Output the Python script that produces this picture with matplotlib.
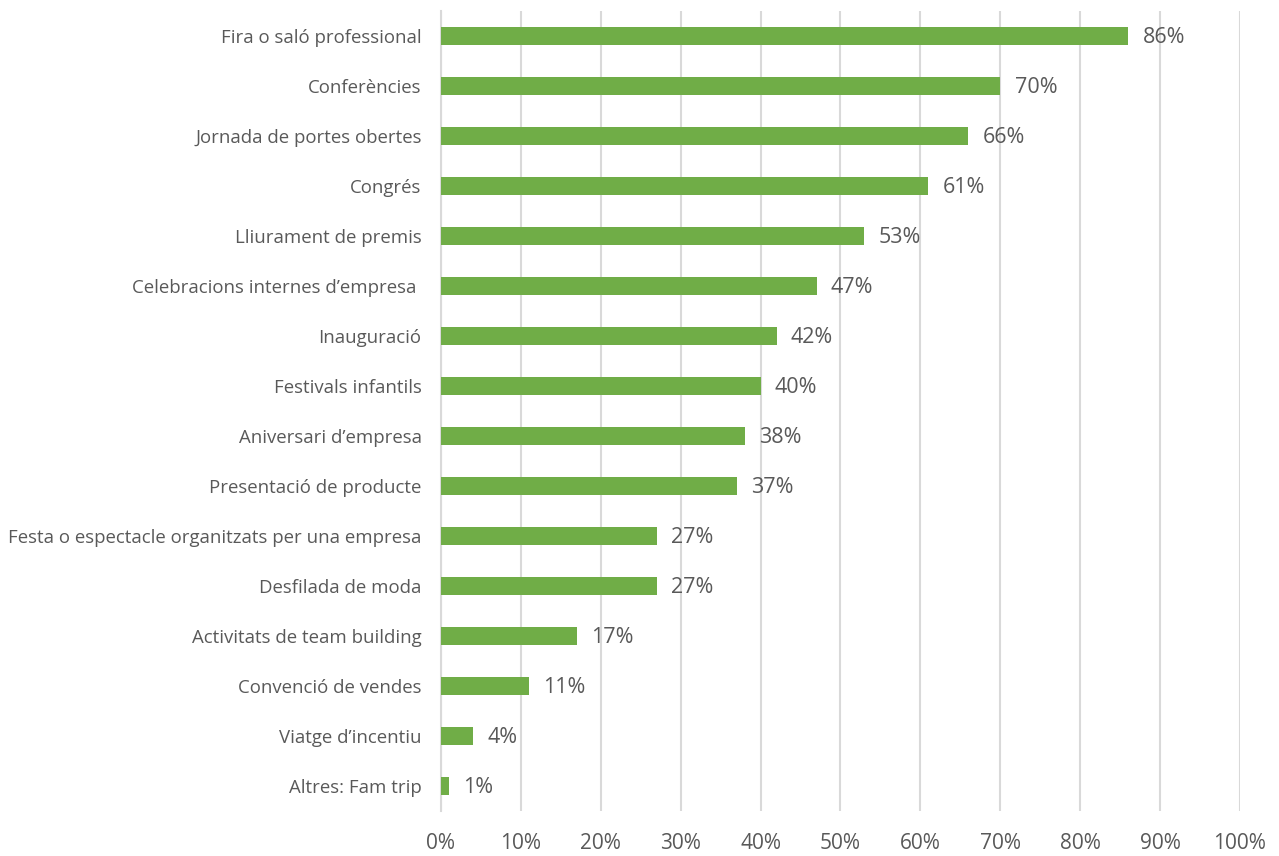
import matplotlib.pyplot as plt
from matplotlib.ticker import MultipleLocator, FuncFormatter

plt.rcParams['font.family'] = ['Open Sans', 'DejaVu Sans']

categories = [
    "Fira o saló professional",
    "Conferències",
    "Jornada de portes obertes",
    "Congrés",
    "Lliurament de premis",
    "Celebracions internes d\u2019empresa ",
    "Inauguració",
    "Festivals infantils",
    "Aniversari d\u2019empresa",
    "Presentació de producte",
    "Festa o espectacle organitzats per una empresa",
    "Desfilada de moda",
    "Activitats de team building",
    "Convenció de vendes",
    "Viatge d\u2019incentiu",
    "Altres: Fam trip",
]
values = [86, 70, 66, 61, 53, 47, 42, 40, 38, 37, 27, 27, 17, 11, 4, 1]

text_color = "#595959"
bar_color = "#70AD47"
grid_color = "#D9D9D9"

fig = plt.figure(figsize=(12.79, 8.56), dpi=100)
ax = fig.add_axes([0.3448, 0.0526, 0.6247, 0.9345])

y = list(range(len(categories)))
ax.barh(y, values, height=0.35, color=bar_color, zorder=3)
ax.set_ylim(len(categories) - 0.5, -0.5)
ax.set_xlim(0, 100)

ax.set_yticks(y)
ax.set_yticklabels(categories, fontsize=13.4, color=text_color)
ax.xaxis.set_major_locator(MultipleLocator(10))
ax.xaxis.set_major_formatter(FuncFormatter(lambda v, _: f"{v:.0f}%"))
ax.tick_params(axis='x', labelsize=15, labelcolor=text_color, length=0, pad=16)
ax.tick_params(axis='y', length=0, pad=14)

ax.grid(axis='x', color=grid_color, linewidth=1.5, zorder=0)
for side in ['top', 'right', 'bottom']:
    ax.spines[side].set_visible(False)
ax.spines['left'].set_color(grid_color)
ax.spines['left'].set_linewidth(1.5)

for yi, v in zip(y, values):
    ax.text(v + 1.8, yi + 0.03, f"{v}%", va='center', ha='left', fontsize=15.5, color=text_color)

fig.savefig("out.png", dpi=100)
